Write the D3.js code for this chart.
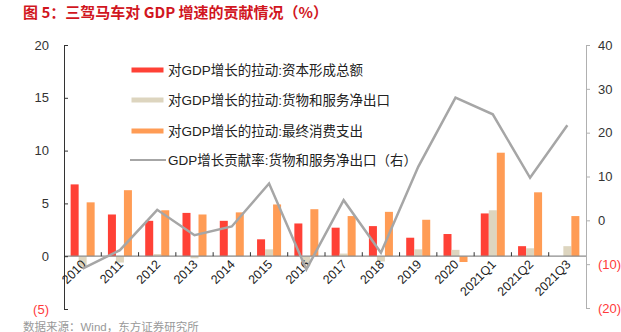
<!DOCTYPE html>
<html><head><meta charset="utf-8">
<script src="https://cdn.jsdelivr.net/npm/d3@7/dist/d3.min.js"></script>
<style>
html,body{margin:0;padding:0;background:#fff;}
svg{display:block;font-family:"Liberation Sans","Noto Sans CJK SC",Arial,sans-serif;}
</style></head>
<body><svg id="c" width="621" height="332"></svg>
<script>
const categories = ["2010","2011","2012","2013","2014","2015","2016","2017","2018","2019","2020","2021Q1","2021Q2","2021Q3"];
const capitalFormation = [6.8, 3.95, 3.35, 4.1, 3.35, 1.6, 3.1, 2.7, 2.85, 1.75, 2.1, 4.05, 0.95, 0];
const netExports = [-1.0, -0.6, 0.2, -0.2, 0.05, 0.65, -0.9, 0.25, -0.5, 0.65, 0.6, 4.35, 0.75, 0.95];
const consumption = [5.1, 6.25, 4.35, 3.95, 4.15, 4.9, 4.45, 3.8, 4.2, 3.45, -0.55, 9.8, 6.05, 3.8];
const netExportsRate = [-11, -6.8, 2.4, -3.4, -1.4, 8.4, -11.2, 4.6, -7.4, 12.2, 28.0, 24.2, 9.7, 21.7];
const leftTicks = [-5, 0, 5, 10, 15, 20];
const rightTicks = [-20, -10, 0, 10, 20, 30, 40];
const seriesNames = ["对GDP增长的拉动:资本形成总额","对GDP增长的拉动:货物和服务净出口","对GDP增长的拉动:最终消费支出","GDP增长贡献率:货物和服务净出口（右）"];
const colors = ["#FF4136","#DDD5BF","#FF9C55","#A6A6A6"];

const svg = d3.select("#c");
const x0 = 64, x1 = 586;
const x = d3.scaleBand().domain(categories).range([x0, x1]).padding(0);
const xs = d3.scaleBand().domain([0,1,2]).range([x.bandwidth()*0.178, x.bandwidth()*0.822]).padding(0);
const yL = d3.scaleLinear().domain([-5, 20]).range([309, 45]);
const yR = d3.scaleLinear().domain([-20, 40]).range([308, 45]);

// title
svg.append("text").attr("x", 23).attr("y", 18).attr("fill", "#D1161E")
  .attr("font-size", 15).attr("font-weight", "bold")
  .attr("font-family", "\"Noto Sans CJK SC\",sans-serif")
  .text("图 5：三驾马车对 GDP 增速的贡献情况（%）");

// bars
const series = [capitalFormation, netExports, consumption];
series.forEach((vals, si) => {
  svg.append("g").selectAll("rect").data(vals).join("rect")
    .attr("x", (d,i) => x(categories[i]) + xs(si))
    .attr("width", xs.bandwidth())
    .attr("y", d => yL(Math.max(0,d)))
    .attr("height", d => Math.abs(yL(d) - yL(0)))
    .attr("fill", colors[si]);
});

// baseline
svg.append("line").attr("x1", x0).attr("x2", x1).attr("y1", yL(0)).attr("y2", yL(0))
  .attr("stroke", "#8c8c8c").attr("stroke-width", 1.3);
svg.append("g").selectAll("line").data(categories.slice(1)).join("line")
  .attr("x1", d => x(d)).attr("x2", d => x(d))
  .attr("y1", yL(0)).attr("y2", yL(0) - 4)
  .attr("stroke", "#333").attr("stroke-width", 1);

// left axis
const gL = svg.append("g").attr("transform", `translate(${x0},0)`)
  .call(d3.axisLeft(yL).tickValues(leftTicks).tickSize(-4).tickPadding(15)
    .tickFormat(d => d < 0 ? `(${-d})` : d));
gL.select(".domain").attr("stroke", "#333");
gL.selectAll(".tick line").attr("stroke", "#333");
gL.selectAll(".tick text").attr("font-size", 13).attr("font-family", "\"Liberation Sans\",Arial,sans-serif")
  .attr("fill", d => d < 0 ? "#FF3B3B" : "#333");

// right axis
const gR = svg.append("g").attr("transform", `translate(${x1},0)`)
  .call(d3.axisRight(yR).tickValues(rightTicks).tickSize(4).tickPadding(8)
    .tickFormat(d => d < 0 ? `(${-d})` : d));
gR.select(".domain").attr("stroke", "#b0b0b0");
gR.selectAll(".tick line").attr("stroke", "#b0b0b0");
gR.selectAll(".tick text").attr("font-size", 13).attr("font-family", "\"Liberation Sans\",Arial,sans-serif")
  .attr("fill", d => d < 0 ? "#FF3B3B" : "#333");

// x labels
svg.append("g").selectAll("text").data(categories).join("text")
  .attr("transform", d => `translate(${x(d) + x.bandwidth()/2 + 4},${yL(0) + 9}) rotate(-45)`)
  .attr("text-anchor", "end").attr("font-size", 12.5)
  .attr("font-family", "\"Liberation Sans\",Arial,sans-serif")
  .attr("fill", "#222").text(d => d);

// line
const line = d3.line().x((d,i) => x(categories[i]) + x.bandwidth()/2).y(d => yR(d));
svg.append("path").datum(netExportsRate).attr("d", line)
  .attr("fill", "none").attr("stroke", colors[3]).attr("stroke-width", 2.5);

// legend
const lg = svg.append("g");
const rows = [70, 100, 131, 160];
seriesNames.forEach((n, i) => {
  if (i < 3) {
    lg.append("rect").attr("x", 131.5).attr("y", rows[i] - 2.5).attr("width", 32).attr("height", 5).attr("fill", colors[i]);
  } else {
    lg.append("line").attr("x1", 130).attr("x2", 166).attr("y1", rows[i]).attr("y2", rows[i])
      .attr("stroke", colors[3]).attr("stroke-width", 2);
  }
  lg.append("text").attr("x", 168).attr("y", rows[i]).attr("dy", "0.36em")
    .attr("font-size", 13.5).attr("fill", "#222").text(n);
});

// source
svg.append("text").attr("x", 23).attr("y", 331).attr("font-size", 11.5).attr("fill", "#999")
  .text("数据来源：Wind，东方证券研究所");
</script>
</body></html>
